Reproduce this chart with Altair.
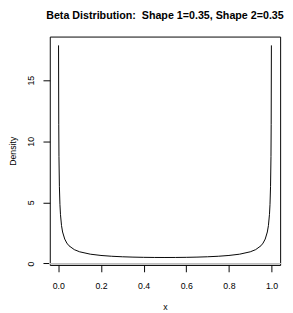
import altair as alt
import pandas as pd

x_vals = [0.001, 0.002, 0.003, 0.005, 0.0075, 0.01, 0.015, 0.02, 0.03, 0.04,
          0.05, 0.075, 0.1, 0.15, 0.2, 0.25, 0.3, 0.35, 0.4, 0.45, 0.5,
          0.55, 0.6, 0.65, 0.7, 0.75, 0.8, 0.85, 0.9, 0.925, 0.95, 0.96,
          0.97, 0.98, 0.985, 0.99, 0.9925, 0.995, 0.997, 0.998, 0.999]
density = [17.85, 11.39, 8.76, 6.29, 4.84, 4.02, 3.10, 2.58, 2.00, 1.67,
           1.45, 1.135, 0.958, 0.764, 0.659, 0.594, 0.552, 0.524, 0.506, 0.496, 0.493,
           0.496, 0.506, 0.524, 0.552, 0.594, 0.659, 0.764, 0.958, 1.135, 1.45, 1.67,
           2.00, 2.58, 3.10, 4.02, 4.84, 6.29, 8.76, 11.39, 17.85]
x_ticks = [0.0, 0.2, 0.4, 0.6, 0.8, 1.0]
y_ticks = [0, 5, 10, 15]

df = pd.DataFrame({"x": x_vals, "density": density})
FONT = "Liberation Sans"

xscale = alt.Scale(domain=[-0.04, 1.04], nice=False, zero=False)
yscale = alt.Scale(domain=[-0.12, 18.57], nice=False, zero=False)

line = alt.Chart(df).mark_line(color="black", strokeWidth=1, clip=True).encode(
    x=alt.X("x:Q", scale=xscale, title="x",
            axis=alt.Axis(values=x_ticks, format=".1f", grid=False, domain=False,
                          tickSize=7, tickColor="black", labelFontSize=9,
                          labelFont=FONT, labelColor="black", labelPadding=10,
                          titleFont=FONT, titleFontSize=9, titleFontWeight="normal",
                          titleColor="black", titlePadding=13)),
    y=alt.Y("density:Q", scale=yscale, title="Density",
            axis=alt.Axis(values=y_ticks, grid=False, domain=False,
                          tickSize=7, tickColor="black", labelFontSize=9,
                          labelFont=FONT, labelColor="black", labelAngle=-90,
                          labelAlign="center", labelBaseline="bottom", labelPadding=8,
                          titleFont=FONT, titleFontSize=9, titleFontWeight="normal",
                          titleColor="black", titlePadding=9)),
)

zero = alt.Chart(df).mark_rule(color="#bebebe", strokeWidth=1).encode(
    y=alt.datum(0, scale=yscale)
)

chart = alt.layer(zero, line).properties(
    width=237, height=235,
    title=alt.TitleParams("Beta Distribution:\u00a0 Shape 1=0.35, Shape 2=0.35",
                          fontSize=11, fontWeight="bold", font=FONT,
                          anchor="middle", offset=16, color="black"),
    autosize=alt.AutoSizeParams(type="none"),
    padding={"left": 43, "top": 25, "right": 5, "bottom": 45},
).configure_view(stroke="black", strokeWidth=1)

chart.save("out.html", embed_options={"renderer": "svg", "actions": False})
